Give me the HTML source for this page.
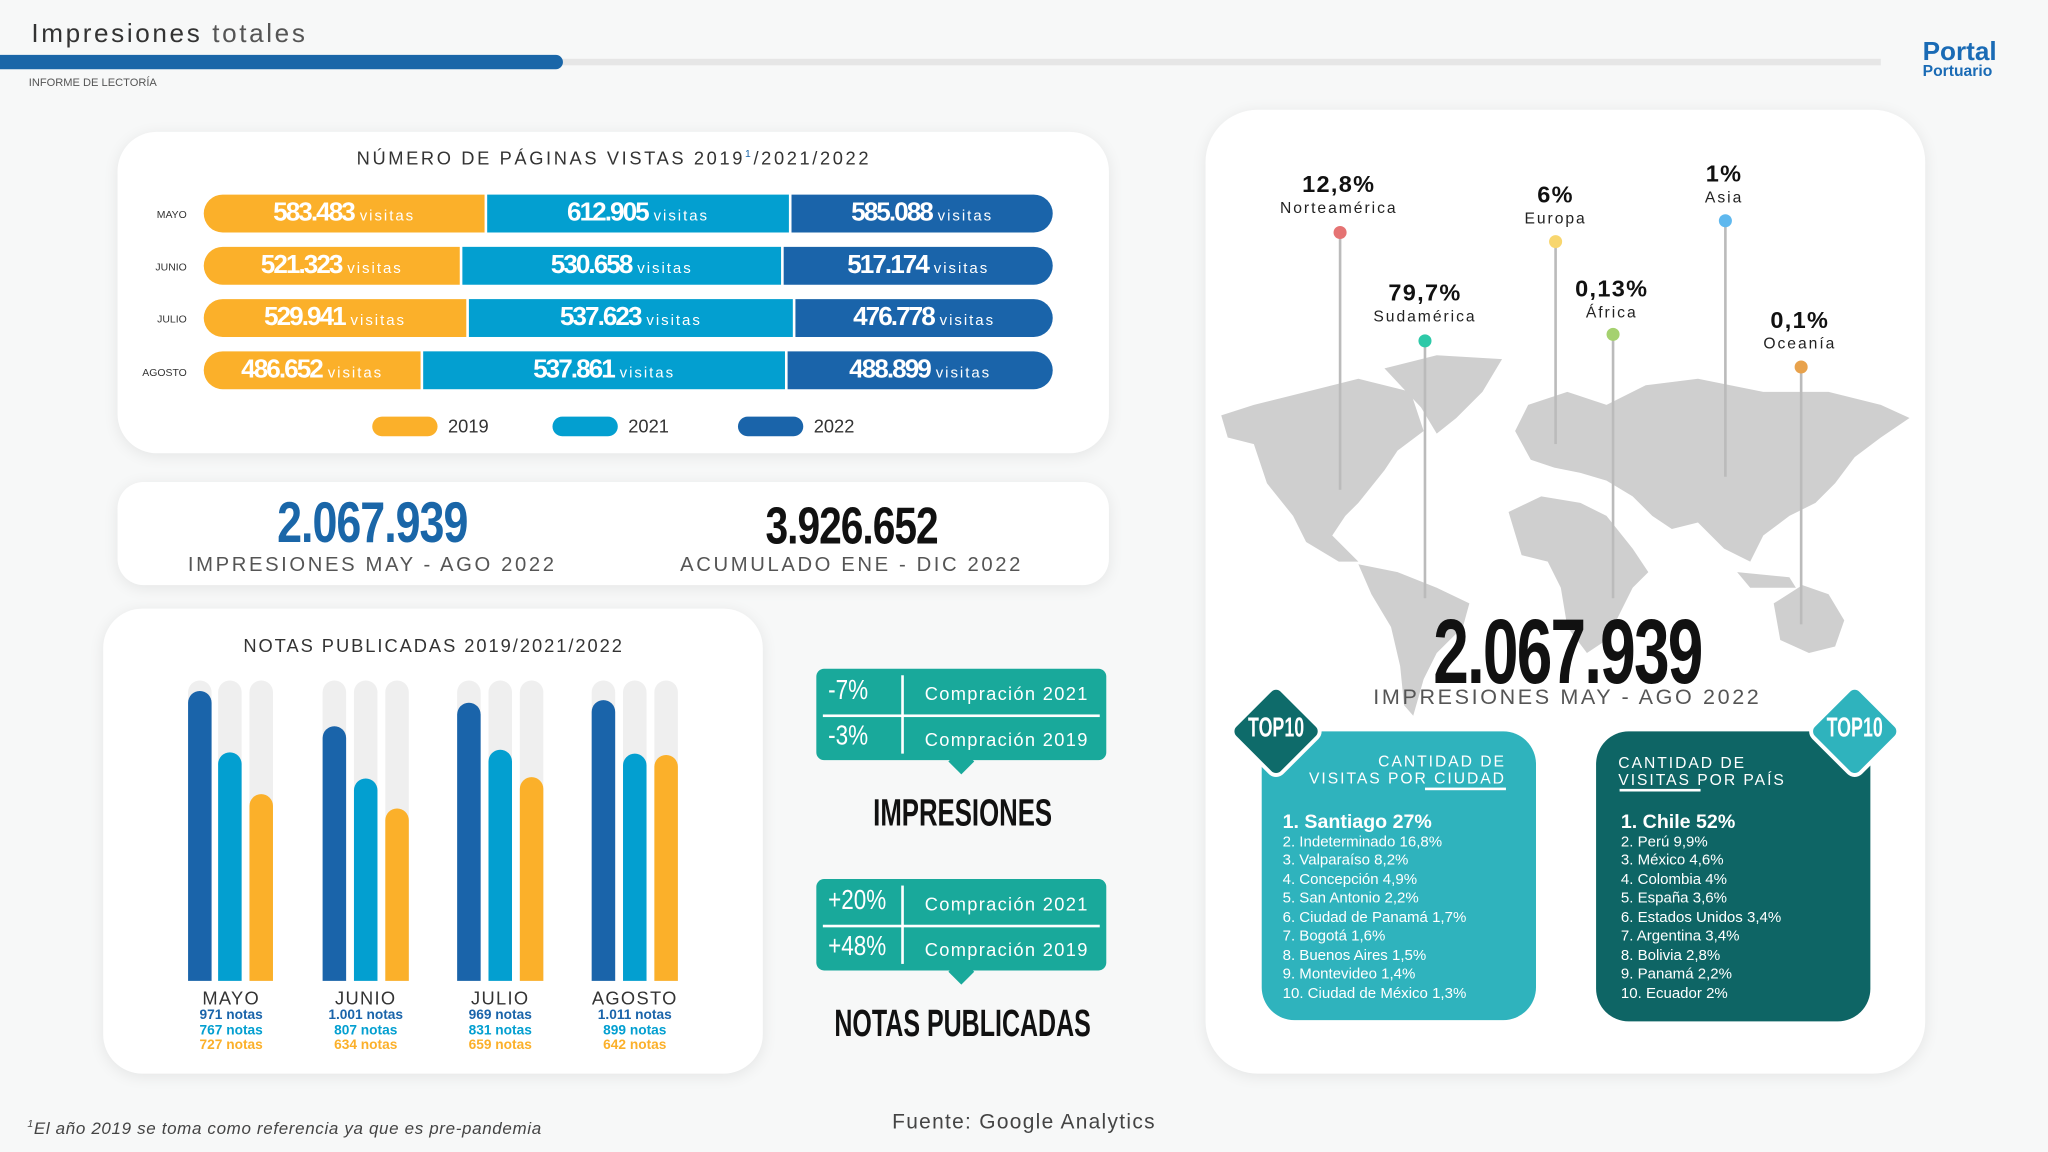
<!DOCTYPE html>
<html><head><meta charset="utf-8"><style>
*{margin:0;padding:0;box-sizing:border-box}
html,body{width:2048px;height:1152px;overflow:hidden;background:#f7f8f8}
#s{position:absolute;left:0;top:0;width:1568px;height:882px;transform:scale(1.306122);transform-origin:0 0;font-family:"Liberation Sans",sans-serif;color:#333}
.a{position:absolute}
.card{position:absolute;background:#fff;box-shadow:0 2px 12px rgba(0,0,0,.08)}
.cond{font-family:"Liberation Sans Narrow","Liberation Sans",sans-serif;font-weight:bold;display:inline-block;transform:scaleX(.82);transform-origin:center}
.seg{position:absolute;height:29px;color:#fff;text-align:center;line-height:29px;white-space:nowrap}
.seg b{font-family:"Liberation Sans Narrow",sans-serif;font-size:20px;letter-spacing:-1.5px}
.seg span{font-size:11.5px;letter-spacing:1.5px}
.mo{position:absolute;width:60px;text-align:right;font-size:8px;color:#333;left:83px}
.ctr{position:absolute;text-align:center;transform:translateX(-50%);white-space:nowrap}
.trk{position:absolute;width:18px;background:#efefef;border-radius:9px 9px 0 0;top:521px;height:230px}
.bar{position:absolute;width:18px;border-radius:9px 9px 0 0}
.nt{font-size:10.5px;font-weight:bold;line-height:11.5px}
.pin{position:absolute;width:1.5px;background:#bbb}
.dot{position:absolute;width:10px;height:10px;border-radius:50%;margin-left:-5px;margin-top:-5px}
.pct{font-family:"Liberation Sans Narrow",sans-serif;font-weight:bold;font-size:18px;color:#111;letter-spacing:1px}
.reg{font-size:12px;letter-spacing:1.5px;color:#222}
.lst{font-size:11.5px;line-height:14.5px;color:#fff}
.lst .f{font-size:15px;font-weight:bold}
</style></head><body><div id="s">
<div class="a" style="left:24px;top:15px;font-size:20px;letter-spacing:2px;color:#333"><span style="color:#333">Impresiones</span> <span style="color:#555">totales</span></div>
<div class="a" style="left:0;top:45px;width:1440px;height:5px;background:#e6e6e6"></div>
<div class="a" style="left:0;top:42px;width:431px;height:11px;background:#1a66a8;border-radius:0 6px 6px 0"></div>
<div class="a" style="left:22px;top:58px;font-size:8.5px;color:#555">INFORME DE LECTORÍA</div>
<div class="a" style="left:1472px;top:33px;color:#1a6bb5;font-weight:bold;line-height:15px"><div style="font-size:20px">Portal</div><div style="font-size:12px;margin-top:-1px">Portuario</div></div>

<div class="card" style="left:90px;top:101px;width:759px;height:246px;border-radius:30px"></div>
<div class="ctr" style="left:470px;top:113px;font-size:14px;letter-spacing:2px;color:#333">NÚMERO DE PÁGINAS VISTAS 2019<sup style="font-size:8px;color:#1a66a8">1</sup>/2021/2022</div>
<div class="mo" style="top:160px">MAYO</div><div class="mo" style="top:200px">JUNIO</div><div class="mo" style="top:240px">JULIO</div><div class="mo" style="top:281px">AGOSTO</div>
<div class="seg" style="left:156px;top:149px;width:215px;background:#fbb02a;border-radius:15px 0 0 15px"><b>583.483</b> <span>visitas</span></div>
<div class="seg" style="left:373px;top:149px;width:231px;background:#039fd0"><b>612.905</b> <span>visitas</span></div>
<div class="seg" style="left:606px;top:149px;width:200px;background:#1a64aa;border-radius:0 15px 15px 0"><b>585.088</b> <span>visitas</span></div>
<div class="seg" style="left:156px;top:189px;width:196px;background:#fbb02a;border-radius:15px 0 0 15px"><b>521.323</b> <span>visitas</span></div>
<div class="seg" style="left:354px;top:189px;width:244px;background:#039fd0"><b>530.658</b> <span>visitas</span></div>
<div class="seg" style="left:600px;top:189px;width:206px;background:#1a64aa;border-radius:0 15px 15px 0"><b>517.174</b> <span>visitas</span></div>
<div class="seg" style="left:156px;top:229px;width:201px;background:#fbb02a;border-radius:15px 0 0 15px"><b>529.941</b> <span>visitas</span></div>
<div class="seg" style="left:359px;top:229px;width:248px;background:#039fd0"><b>537.623</b> <span>visitas</span></div>
<div class="seg" style="left:609px;top:229px;width:197px;background:#1a64aa;border-radius:0 15px 15px 0"><b>476.778</b> <span>visitas</span></div>
<div class="seg" style="left:156px;top:269px;width:166px;background:#fbb02a;border-radius:15px 0 0 15px"><b>486.652</b> <span>visitas</span></div>
<div class="seg" style="left:324px;top:269px;width:277px;background:#039fd0"><b>537.861</b> <span>visitas</span></div>
<div class="seg" style="left:603px;top:269px;width:203px;background:#1a64aa;border-radius:0 15px 15px 0"><b>488.899</b> <span>visitas</span></div>
<div class="a" style="left:285px;top:319px;width:50px;height:15px;border-radius:8px;background:#fbb02a"></div><div class="a" style="left:343px;top:318px;font-size:14px">2019</div>
<div class="a" style="left:423px;top:319px;width:50px;height:15px;border-radius:8px;background:#039fd0"></div><div class="a" style="left:481px;top:318px;font-size:14px">2021</div>
<div class="a" style="left:565px;top:319px;width:50px;height:15px;border-radius:8px;background:#1a64aa"></div><div class="a" style="left:623px;top:318px;font-size:14px">2022</div>

<div class="card" style="left:90px;top:369px;width:759px;height:79px;border-radius:20px"></div>
<div class="ctr" style="left:285px;top:377px;font-size:44px;line-height:48px;color:#1a66a8"><span class="cond" style="letter-spacing:-1px;transform:scaleX(.78)">2.067.939</span></div>
<div class="ctr" style="left:285px;top:424px;font-size:15.5px;letter-spacing:2px;color:#555">IMPRESIONES MAY - AGO 2022</div>
<div class="ctr" style="left:652px;top:381px;font-size:40px;line-height:44px;color:#111"><span class="cond" style="letter-spacing:-1px;transform:scaleX(.78)">3.926.652</span></div>
<div class="ctr" style="left:652px;top:424px;font-size:15.5px;letter-spacing:2px;color:#555">ACUMULADO ENE - DIC 2022</div>

<div class="card" style="left:79px;top:466px;width:505px;height:356px;border-radius:30px"></div>
<div class="ctr" style="left:332px;top:486px;font-size:14px;letter-spacing:1.5px">NOTAS PUBLICADAS 2019/2021/2022</div>
<div class="trk" style="left:144px"></div><div class="trk" style="left:167px"></div><div class="trk" style="left:191px"></div>
<div class="trk" style="left:247px"></div><div class="trk" style="left:271px"></div><div class="trk" style="left:295px"></div>
<div class="trk" style="left:350px"></div><div class="trk" style="left:374px"></div><div class="trk" style="left:398px"></div>
<div class="trk" style="left:453px"></div><div class="trk" style="left:477px"></div><div class="trk" style="left:501px"></div>
<div class="bar" style="left:144px;top:529px;height:222px;background:#1a64aa"></div>
<div class="bar" style="left:167px;top:576px;height:175px;background:#039fd0"></div>
<div class="bar" style="left:191px;top:608px;height:143px;background:#fbb02a"></div>
<div class="bar" style="left:247px;top:556px;height:195px;background:#1a64aa"></div>
<div class="bar" style="left:271px;top:596px;height:155px;background:#039fd0"></div>
<div class="bar" style="left:295px;top:619px;height:132px;background:#fbb02a"></div>
<div class="bar" style="left:350px;top:538px;height:213px;background:#1a64aa"></div>
<div class="bar" style="left:374px;top:574px;height:177px;background:#039fd0"></div>
<div class="bar" style="left:398px;top:595px;height:156px;background:#fbb02a"></div>
<div class="bar" style="left:453px;top:536px;height:215px;background:#1a64aa"></div>
<div class="bar" style="left:477px;top:577px;height:174px;background:#039fd0"></div>
<div class="bar" style="left:501px;top:578px;height:173px;background:#fbb02a"></div>
<div class="ctr" style="left:177px;top:756px"><div style="font-size:14px;letter-spacing:1px">MAYO</div><div class="nt" style="color:#1a64aa">971 notas</div><div class="nt" style="color:#039fd0">767 notas</div><div class="nt" style="color:#fbb02a">727 notas</div></div>
<div class="ctr" style="left:280px;top:756px"><div style="font-size:14px;letter-spacing:1px">JUNIO</div><div class="nt" style="color:#1a64aa">1.001 notas</div><div class="nt" style="color:#039fd0">807 notas</div><div class="nt" style="color:#fbb02a">634 notas</div></div>
<div class="ctr" style="left:383px;top:756px"><div style="font-size:14px;letter-spacing:1px">JULIO</div><div class="nt" style="color:#1a64aa">969 notas</div><div class="nt" style="color:#039fd0">831 notas</div><div class="nt" style="color:#fbb02a">659 notas</div></div>
<div class="ctr" style="left:486px;top:756px"><div style="font-size:14px;letter-spacing:1px">AGOSTO</div><div class="nt" style="color:#1a64aa">1.011 notas</div><div class="nt" style="color:#039fd0">899 notas</div><div class="nt" style="color:#fbb02a">642 notas</div></div>

<div class="a" style="left:625px;top:512px;width:222px;height:70px;background:#19a99b;border-radius:6px"></div>
<div class="a" style="left:729px;top:576px;width:14px;height:14px;background:#19a99b;transform:rotate(45deg)"></div>
<div class="a" style="left:690px;top:517px;width:1.5px;height:60px;background:#fff"></div>
<div class="a" style="left:630px;top:547px;width:212px;height:1.5px;background:#fff"></div>
<div class="a" style="left:634px;top:517px;color:#fff;font-size:21px"><span class="cond" style="transform-origin:left;font-weight:normal">-7%</span></div>
<div class="a" style="left:634px;top:552px;color:#fff;font-size:21px"><span class="cond" style="transform-origin:left;font-weight:normal">-3%</span></div>
<div class="a" style="left:708px;top:523px;color:#fff;font-size:14px;letter-spacing:1px">Compración 2021</div>
<div class="a" style="left:708px;top:558px;color:#fff;font-size:14px;letter-spacing:1px">Compración 2019</div>
<div class="ctr" style="left:737px;top:607px;font-size:29px;color:#111"><span class="cond" style="transform:scaleX(.68)">IMPRESIONES</span></div>

<div class="a" style="left:625px;top:673px;width:222px;height:70px;background:#19a99b;border-radius:6px"></div>
<div class="a" style="left:729px;top:737px;width:14px;height:14px;background:#19a99b;transform:rotate(45deg)"></div>
<div class="a" style="left:690px;top:678px;width:1.5px;height:60px;background:#fff"></div>
<div class="a" style="left:630px;top:708px;width:212px;height:1.5px;background:#fff"></div>
<div class="a" style="left:634px;top:678px;color:#fff;font-size:21px"><span class="cond" style="transform-origin:left;font-weight:normal">+20%</span></div>
<div class="a" style="left:634px;top:713px;color:#fff;font-size:21px"><span class="cond" style="transform-origin:left;font-weight:normal">+48%</span></div>
<div class="a" style="left:708px;top:684px;color:#fff;font-size:14px;letter-spacing:1px">Compración 2021</div>
<div class="a" style="left:708px;top:719px;color:#fff;font-size:14px;letter-spacing:1px">Compración 2019</div>
<div class="ctr" style="left:737px;top:768px;font-size:29px;color:#111"><span class="cond" style="transform:scaleX(.66)">NOTAS PUBLICADAS</span></div>

<div class="card" style="left:923px;top:84px;width:551px;height:738px;border-radius:40px"></div>
<svg class="a" style="left:0;top:0" width="1568" height="882" fill="#cfcfcf">
<polygon points="935,318 960,310 1000,300 1040,290 1080,300 1090,330 1070,345 1060,360 1040,385 1030,395 1020,410 1040,430 1025,430 1000,415 990,395 970,370 960,340 940,335"/>
<polygon points="1060,282 1100,272 1150,275 1135,300 1115,320 1100,332 1088,312"/>
<polygon points="1040,432 1070,438 1100,450 1125,462 1120,480 1100,500 1090,520 1082,548 1075,540 1072,510 1065,480 1050,455"/>
<polygon points="1160,330 1170,310 1200,300 1230,310 1260,295 1300,290 1350,300 1400,300 1440,310 1462,320 1440,335 1420,350 1405,370 1390,385 1370,395 1350,410 1340,430 1320,420 1300,400 1280,405 1265,395 1250,380 1230,368 1210,362 1190,358 1172,352"/>
<polygon points="1155,392 1180,380 1210,385 1230,395 1250,420 1262,438 1250,450 1240,470 1230,490 1215,500 1200,480 1195,450 1185,430 1165,425"/>
<polygon points="1358,462 1380,448 1400,455 1412,475 1405,495 1385,500 1363,490"/>
<polygon points="1330,438 1370,442 1375,450 1340,450"/>
</svg>
<div class="pin" style="left:1025px;top:178px;height:197px"></div><div class="dot" style="left:1026px;top:178px;background:#e57373"></div>
<div class="pin" style="left:1090px;top:261px;height:197px"></div><div class="dot" style="left:1091px;top:261px;background:#2ec9a8"></div>
<div class="pin" style="left:1190px;top:185px;height:155px"></div><div class="dot" style="left:1191px;top:185px;background:#f8d66e"></div>
<div class="pin" style="left:1234px;top:256px;height:202px"></div><div class="dot" style="left:1235px;top:256px;background:#a5d16f"></div>
<div class="pin" style="left:1320px;top:169px;height:196px"></div><div class="dot" style="left:1321px;top:169px;background:#5fb8ee"></div>
<div class="pin" style="left:1378px;top:281px;height:197px"></div><div class="dot" style="left:1379px;top:281px;background:#e8a24c"></div>
<div class="ctr" style="left:1025px;top:131px;text-align:center"><div class="pct">12,8%</div><div class="reg">Norteamérica</div></div>
<div class="ctr" style="left:1091px;top:214px;text-align:center"><div class="pct">79,7%</div><div class="reg">Sudamérica</div></div>
<div class="ctr" style="left:1191px;top:139px;text-align:center"><div class="pct">6%</div><div class="reg">Europa</div></div>
<div class="ctr" style="left:1234px;top:211px;text-align:center"><div class="pct">0,13%</div><div class="reg">África</div></div>
<div class="ctr" style="left:1320px;top:123px;text-align:center"><div class="pct">1%</div><div class="reg">Asia</div></div>
<div class="ctr" style="left:1378px;top:235px;text-align:center"><div class="pct">0,1%</div><div class="reg">Oceanía</div></div>
<div class="ctr" style="left:1200px;top:462px;font-size:70px;line-height:74px;color:#111"><span class="cond" style="transform:scaleX(.7);letter-spacing:-2px">2.067.939</span></div>
<div class="ctr" style="left:1200px;top:525px;font-size:16.5px;letter-spacing:2px;color:#555">IMPRESIONES MAY - AGO 2022</div>

<div class="a" style="left:966px;top:560px;width:210px;height:221px;background:#2fb3bd;border-radius:25px"></div>
<div class="a" style="left:950px;top:533px;width:54px;height:54px;background:#0e6b6a;border:3px solid #fff;border-radius:8px;transform:rotate(45deg)"></div>
<div class="ctr" style="left:977px;top:546px;color:#fff;font-size:21px"><span class="cond" style="transform:scaleX(.65)">TOP10</span></div>
<div class="a" style="left:990px;top:577px;width:163px;text-align:right;color:#fff;font-size:12px;letter-spacing:1.5px;line-height:13px">CANTIDAD DE<br>VISITAS POR CIUDAD</div>
<div class="a" style="left:1091px;top:603px;width:62px;height:2px;background:#fff"></div>
<div class="a lst" style="left:982px;top:623px"><div class="f">1. Santiago 27%</div>2. Indeterminado 16,8%<br>3. Valparaíso 8,2%<br>4. Concepción 4,9%<br>5. San Antonio 2,2%<br>6. Ciudad de Panamá 1,7%<br>7. Bogotá 1,6%<br>8. Buenos Aires 1,5%<br>9. Montevideo 1,4%<br>10. Ciudad de México 1,3%</div>

<div class="a" style="left:1222px;top:560px;width:210px;height:222px;background:#0e6565;border-radius:25px"></div>
<div class="a" style="left:1393px;top:533px;width:54px;height:54px;background:#2fb3bd;border:3px solid #fff;border-radius:8px;transform:rotate(45deg)"></div>
<div class="ctr" style="left:1420px;top:546px;color:#fff;font-size:21px"><span class="cond" style="transform:scaleX(.65)">TOP10</span></div>
<div class="a" style="left:1239px;top:578px;color:#fff;font-size:12px;letter-spacing:1.5px;line-height:13px">CANTIDAD DE<br>VISITAS POR PAÍS</div>
<div class="a" style="left:1240px;top:604px;width:62px;height:2px;background:#fff"></div>
<div class="a lst" style="left:1241px;top:623px"><div class="f">1. Chile 52%</div>2. Perú 9,9%<br>3. México 4,6%<br>4. Colombia 4%<br>5. España 3,6%<br>6. Estados Unidos 3,4%<br>7. Argentina 3,4%<br>8. Bolivia 2,8%<br>9. Panamá 2,2%<br>10. Ecuador 2%</div>

<div class="a" style="left:21px;top:856px;font-size:13px;font-style:italic;color:#444;letter-spacing:.5px"><sup style="font-size:8px">1</sup>El año 2019 se toma como referencia ya que es pre-pandemia</div>
<div class="ctr" style="left:784px;top:851px;font-size:16px;letter-spacing:1px;color:#444">Fuente: Google Analytics</div>
</div></body></html>
